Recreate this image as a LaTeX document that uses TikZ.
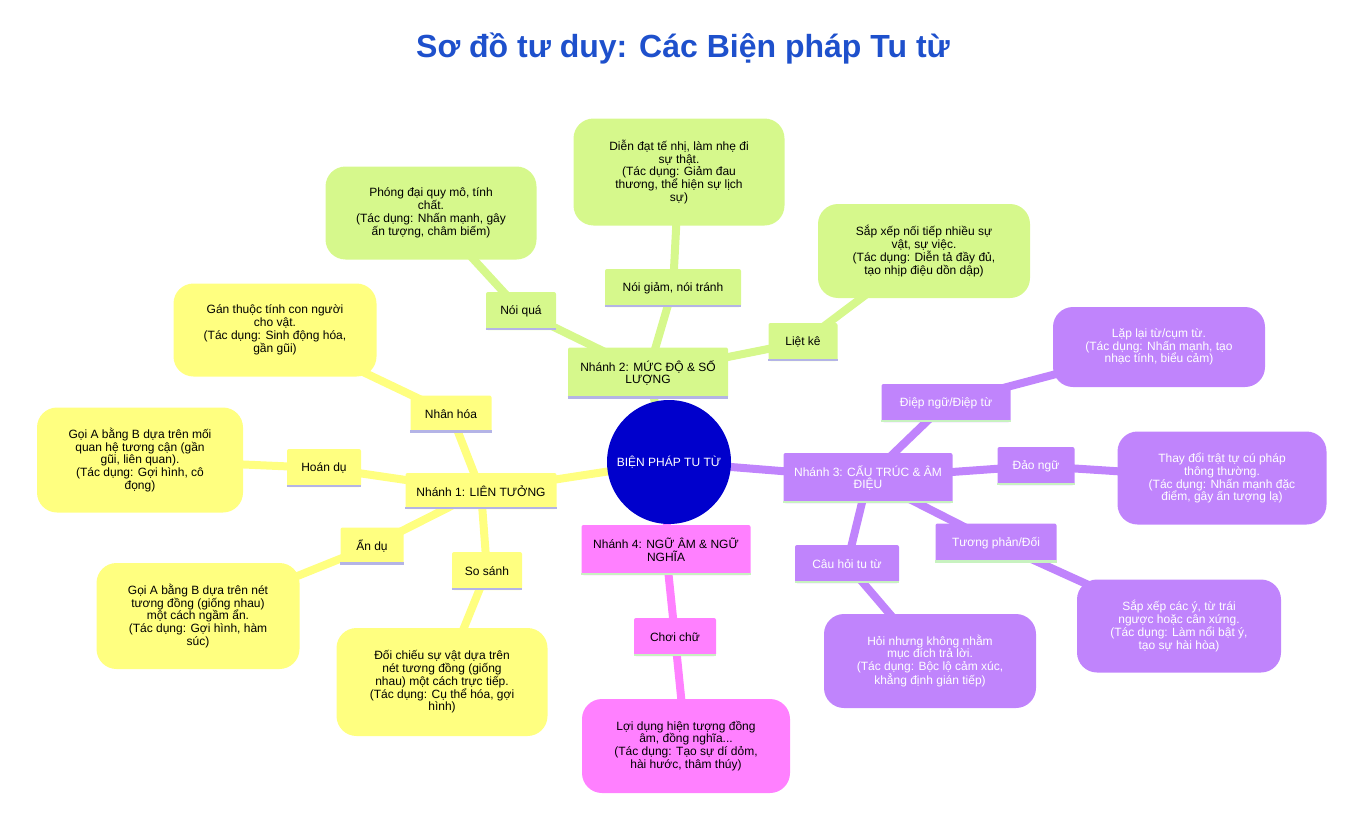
\documentclass[tikz,border=0pt]{standalone}
\usepackage{fontspec}
\setmainfont{Liberation Sans}
\usetikzlibrary{backgrounds}
\definecolor{TitleBlue}{RGB}{30,80,204}
\definecolor{CoreBlue}{RGB}{0,0,204}
\definecolor{AssocYellow}{HTML}{FFFF80}
\definecolor{DegreeGreen}{HTML}{D6F88C}
\definecolor{StructPurple}{HTML}{C084FC}
\definecolor{SoundPink}{HTML}{FF80FF}
\definecolor{EdgeLav}{HTML}{B4B4E6}
\definecolor{EdgeMint}{HTML}{C8F2C0}

\tikzset{
  boxtext/.style={font=\fontsize{12}{12.8}\selectfont, align=center, inner sep=0pt},
  topic/.style={boxtext, rectangle, rounded corners=2pt},
  leaf/.style={boxtext, rectangle, rounded corners=20pt},
  link/.style={line width=8pt},
}

\begin{document}
\begin{tikzpicture}[x=1pt, y=-1pt]
        \useasboundingbox (0,0) rectangle (1371,816);
        \node[font=\fontsize{32}{35}\selectfont\bfseries, text=TitleBlue] (title) at (683,49) {Sơ đồ tư duy: Các Biện pháp Tu từ};

        % centre
        \node[circle, fill=CoreBlue, minimum size=124pt, inner sep=0pt, text=white, font=\fontsize{12}{12.8}\selectfont] (core) at (669,462) {BIỆN PHÁP TU TỪ};

        % branch 1
        \node[topic, fill=AssocYellow, minimum width=151pt, minimum height=36pt] (b1) at (481,491) {Nhánh 1: LIÊN TƯỞNG};
        \node[topic, fill=AssocYellow, minimum width=81pt, minimum height=37pt] (nhanhoa) at (451,414) {Nhân hóa};
        \node[topic, fill=AssocYellow, minimum width=74pt, minimum height=38pt] (hoandu) at (324,468) {Hoán dụ};
        \node[topic, fill=AssocYellow, minimum width=63pt, minimum height=37pt] (andu) at (372,546) {Ẩn dụ};
        \node[topic, fill=AssocYellow, minimum width=70pt, minimum height=38pt] (sosanh) at (487,571) {So sánh};
        \node[leaf, fill=AssocYellow, minimum width=203pt, minimum height=93pt] (nhanhoaL) at (275,330) {Gán thuộc tính con người\\cho vật.\\(Tác dụng: Sinh động hóa,\\gần gũi)};
        \node[leaf, fill=AssocYellow, minimum width=206pt, minimum height=105pt] (hoanduL) at (140,460) {Gọi A bằng B dựa trên mối\\quan hệ tương cận (gần\\gũi, liên quan).\\(Tác dụng: Gợi hình, cô\\đọng)};
        \node[leaf, fill=AssocYellow, minimum width=203pt, minimum height=106pt] (anduL) at (198,616) {Gọi A bằng B dựa trên nét\\tương đồng (giống nhau)\\một cách ngầm ẩn.\\(Tác dụng: Gợi hình, hàm\\súc)};
        \node[leaf, fill=AssocYellow, minimum width=211pt, minimum height=108pt] (sosanhL) at (442,682) {Đối chiếu sự vật dựa trên\\nét tương đồng (giống\\nhau) một cách trực tiếp.\\(Tác dụng: Cụ thể hóa, gợi\\hình)};

        % branch 2
        \node[topic, fill=DegreeGreen, minimum width=160pt, minimum height=51pt] (b2) at (648,373) {Nhánh 2: MỨC ĐỘ \& SỐ\\LƯỢNG};
        \node[topic, fill=DegreeGreen, minimum width=70pt, minimum height=38pt] (noiqua) at (521,311) {Nói quá};
        \node[topic, fill=DegreeGreen, minimum width=136pt, minimum height=38pt] (noigiam) at (673,288) {Nói giảm, nói tránh};
        \node[topic, fill=DegreeGreen, minimum width=69pt, minimum height=38pt] (lietke) at (803,342) {Liệt kê};
        \node[leaf, fill=DegreeGreen, minimum width=211pt, minimum height=93pt] (noiquaL) at (431,213) {Phóng đại quy mô, tính\\chất.\\(Tác dụng: Nhấn mạnh, gây\\ấn tượng, châm biếm)};
        \node[leaf, fill=DegreeGreen, minimum width=211pt, minimum height=107pt] (noigiamL) at (679,172) {Diễn đạt tế nhị, làm nhẹ đi\\sự thật.\\(Tác dụng: Giảm đau\\thương, thể hiện sự lịch\\sự)};
        \node[leaf, fill=DegreeGreen, minimum width=212pt, minimum height=94pt] (lietkeL) at (924,251) {Sắp xếp nối tiếp nhiều sự\\vật, sự việc.\\(Tác dụng: Diễn tả đầy đủ,\\tạo nhịp điệu dồn dập)};

        % branch 3
        \node[topic, fill=StructPurple, text=white, minimum width=169pt, minimum height=50pt] (b3) at (868,478) {Nhánh 3: CẤU TRÚC \& ÂM\\ĐIỆU};
        \node[topic, fill=StructPurple, text=white, minimum width=129pt, minimum height=38pt] (diepngu) at (946,403) {Điệp ngữ/Điệp từ};
        \node[topic, fill=StructPurple, text=white, minimum width=77pt, minimum height=38pt] (daongu) at (1036,466) {Đảo ngữ};
        \node[topic, fill=StructPurple, text=white, minimum width=121pt, minimum height=39pt] (tuongphan) at (996,543) {Tương phản/Đối};
        \node[topic, fill=StructPurple, text=white, minimum width=104pt, minimum height=38pt] (cauhoi) at (847,564) {Câu hỏi tu từ};
        \node[leaf, fill=StructPurple, text=white, minimum width=212pt, minimum height=80pt] (diepnguL) at (1159,347) {Lặp lại từ/cụm từ.\\(Tác dụng: Nhấn mạnh, tạo\\nhạc tính, biểu cảm)};
        \node[leaf, fill=StructPurple, text=white, minimum width=209pt, minimum height=93pt] (daonguL) at (1222,478) {Thay đổi trật tự cú pháp\\thông thường.\\(Tác dụng: Nhấn mạnh đặc\\điểm, gây ấn tượng lạ)};
        \node[leaf, fill=StructPurple, text=white, minimum width=204pt, minimum height=93pt] (tuongphanL) at (1179,626) {Sắp xếp các ý, từ trái\\ngược hoặc cân xứng.\\(Tác dụng: Làm nổi bật ý,\\tạo sự hài hòa)};
        \node[leaf, fill=StructPurple, text=white, minimum width=212pt, minimum height=94pt] (cauhoiL) at (930,661) {Hỏi nhưng không nhằm\\mục đích trả lời.\\(Tác dụng: Bộc lộ cảm xúc,\\khẳng định gián tiếp)};

        % branch 4
        \node[topic, fill=SoundPink, minimum width=169pt, minimum height=50pt] (b4) at (666,550) {Nhánh 4: NGỮ ÂM \& NGỮ\\NGHĨA};
        \node[topic, fill=SoundPink, minimum width=82pt, minimum height=38pt] (choichu) at (675,637) {Chơi chữ};
        \node[leaf, fill=SoundPink, minimum width=208pt, minimum height=94pt] (choichuL) at (686,746) {Lợi dụng hiện tượng đồng\\âm, đồng nghĩa...\\(Tác dụng: Tạo sự dí dỏm,\\hài hước, thâm thúy)};

        % bottom edges of the small boxes
        \foreach \n in {b1,nhanhoa,hoandu,andu,sosanh,b2,noiqua,noigiam,lietke}
          \draw[EdgeLav, line width=2.5pt] ([yshift=1.2pt]\n.south west) -- ([yshift=1.2pt]\n.south east);
        \foreach \n in {b3,diepngu,daongu,tuongphan,cauhoi,b4,choichu}
          \draw[EdgeMint, line width=2.5pt] ([yshift=1.2pt]\n.south west) -- ([yshift=1.2pt]\n.south east);

        % connectors, behind the boxes
        \begin{scope}[on background layer]
          \foreach \a/\b in {core/b1,b1/nhanhoa,b1/hoandu,b1/andu,b1/sosanh,nhanhoa/nhanhoaL,hoandu/hoanduL,andu/anduL,sosanh/sosanhL}
            \draw[link, AssocYellow] (\a.center) -- (\b.center);
          \foreach \a/\b in {core/b2,b2/noiqua,b2/noigiam,b2/lietke,noiqua/noiquaL,noigiam/noigiamL,lietke/lietkeL}
            \draw[link, DegreeGreen] (\a.center) -- (\b.center);
          \foreach \a/\b in {core/b3,b3/diepngu,b3/daongu,b3/tuongphan,b3/cauhoi,diepngu/diepnguL,daongu/daonguL,tuongphan/tuongphanL,cauhoi/cauhoiL}
            \draw[link, StructPurple] (\a.center) -- (\b.center);
          \foreach \a/\b in {core/b4,b4/choichu,choichu/choichuL}
            \draw[link, SoundPink] (\a.center) -- (\b.center);
        \end{scope}
      \end{tikzpicture}
\end{document}
